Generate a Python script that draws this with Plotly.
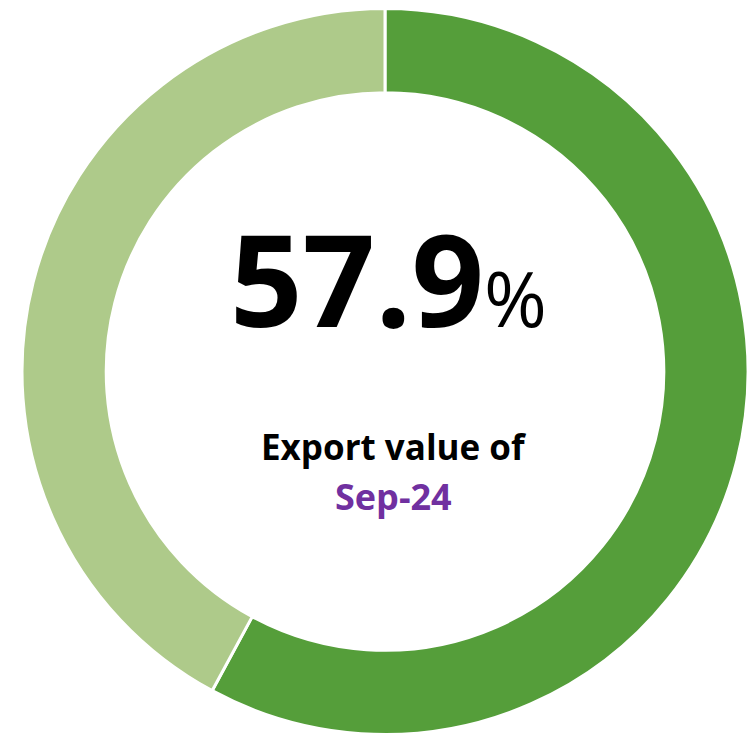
import plotly.graph_objects as go

labels = ["Export value", "Remainder"]
values = [57.9, 42.1]
colors = ["#559E3A", "#AECA8A"]
headline_value = "57.9"
subtitle = "Export value of"
period = "Sep-24"

W, H = 748, 735

fig = go.Figure(go.Pie(
    labels=labels,
    values=values,
    hole=0.768,
    sort=False,
    direction="clockwise",
    rotation=0,
    marker=dict(colors=colors, line=dict(color="white", width=3)),
    textinfo="none",
    hoverinfo="label+percent",
    showlegend=False,
    domain=dict(x=[22 / W, 1.0], y=[0.0, 1 - 8 / H]),
))

fig.add_annotation(
    x=0.519, y=0.623, xref="paper", yref="paper", showarrow=False,
    text=f"<b>{headline_value}</b><span style='font-size:76px;font-weight:normal'>%</span>",
    font=dict(family="Open Sans", size=127, color="black"),
    xanchor="center", yanchor="middle",
)
fig.add_annotation(
    x=0.527, y=0.393, xref="paper", yref="paper", showarrow=False,
    text=f"<b>{subtitle}</b>",
    font=dict(family="Open Sans", size=35, color="black"),
    xanchor="center", yanchor="middle",
)
fig.add_annotation(
    x=0.526, y=0.324, xref="paper", yref="paper", showarrow=False,
    text=f"<b>{period}</b>",
    font=dict(family="Open Sans", size=36, color="#7030A0"),
    xanchor="center", yanchor="middle",
)

fig.update_layout(
    width=W, height=H,
    margin=dict(l=0, r=0, t=0, b=0),
    paper_bgcolor="white",
    plot_bgcolor="white",
)

fig.write_html(
    "out.html",
    config={"displayModeBar": False},
    post_script="document.body.style.margin='0';document.body.style.overflow='hidden';",
)
